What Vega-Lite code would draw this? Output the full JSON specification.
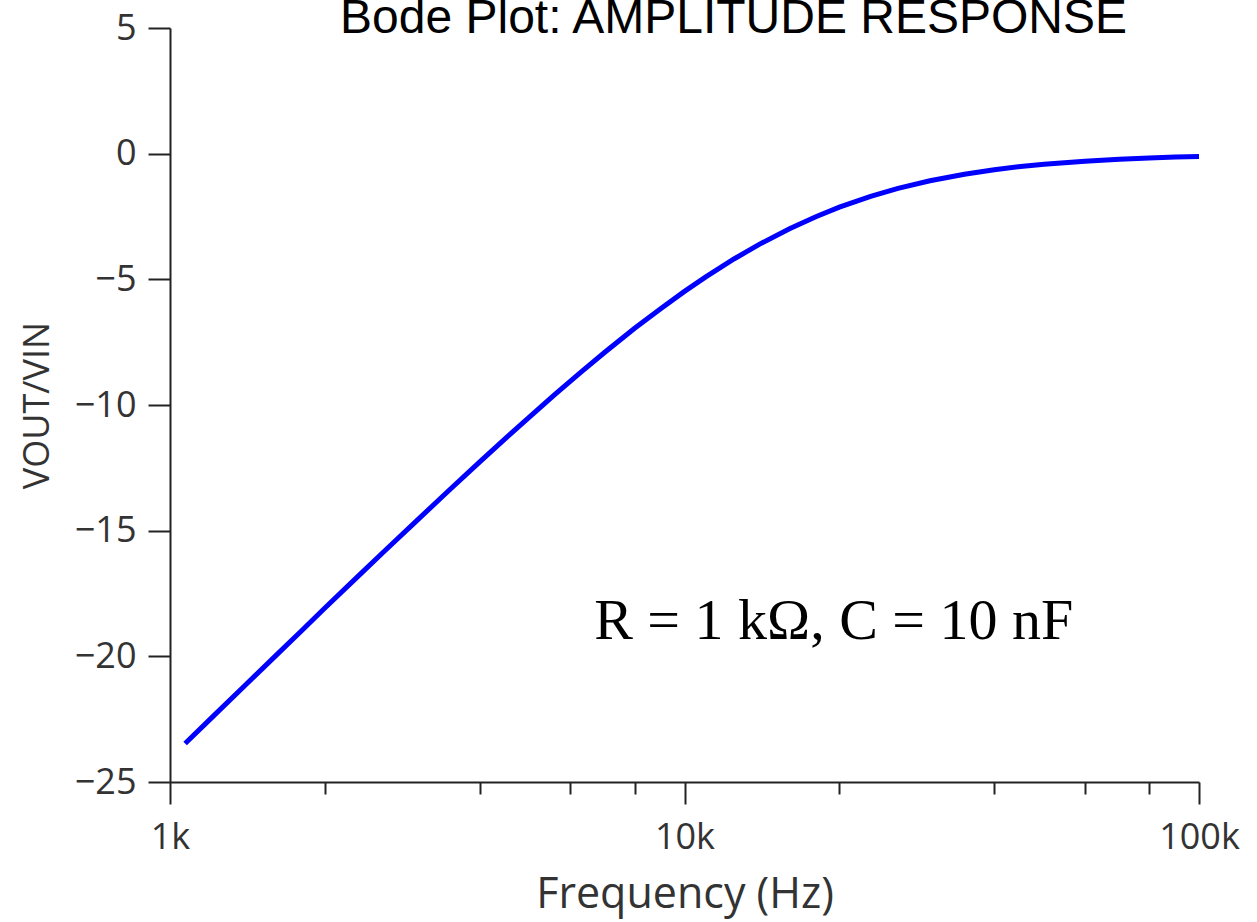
{
  "$schema": "https://vega.github.io/schema/vega-lite/v6.json",
  "width": 1029,
  "height": 754,
  "autosize": {"type": "none"},
  "padding": {"left": 170, "top": 28, "right": 58, "bottom": 140},
  "background": "white",
  "config": {
    "view": {"stroke": null},
    "axis": {
      "grid": false,
      "domainColor": "#222222",
      "domainWidth": 2,
      "tickColor": "#222222",
      "tickWidth": 2,
      "labelColor": "#333333",
      "labelFont": "Open Sans",
      "labelFontSize": 36,
      "titleFont": "Open Sans",
      "titleFontWeight": "normal",
      "titleColor": "#333333"
    }
  },
  "title": {
    "text": "Bode Plot: AMPLITUDE RESPONSE",
    "font": "Liberation Sans",
    "fontSize": 48,
    "fontWeight": "normal",
    "color": "black",
    "anchor": "middle",
    "frame": "group",
    "dx": 49,
    "baseline": "alphabetic",
    "offset": 0,
    "dy": 71
  },
  "layer": [
    {
      "data": {
        "values": [
          {"frequency": 1070, "gain": -23.47},
          {"frequency": 1200, "gain": -22.48},
          {"frequency": 1400, "gain": -21.15},
          {"frequency": 1600, "gain": -20.0},
          {"frequency": 1800, "gain": -18.99},
          {"frequency": 2000, "gain": -18.08},
          {"frequency": 2300, "gain": -16.89},
          {"frequency": 2600, "gain": -15.85},
          {"frequency": 3000, "gain": -14.65},
          {"frequency": 3500, "gain": -13.36},
          {"frequency": 4000, "gain": -12.26},
          {"frequency": 4500, "gain": -11.31},
          {"frequency": 5000, "gain": -10.47},
          {"frequency": 5600, "gain": -9.58},
          {"frequency": 6300, "gain": -8.68},
          {"frequency": 7000, "gain": -7.9},
          {"frequency": 8000, "gain": -6.95},
          {"frequency": 9000, "gain": -6.16},
          {"frequency": 10000, "gain": -5.48},
          {"frequency": 11000, "gain": -4.9},
          {"frequency": 12500, "gain": -4.18},
          {"frequency": 14000, "gain": -3.6},
          {"frequency": 16000, "gain": -2.99},
          {"frequency": 18000, "gain": -2.51},
          {"frequency": 20000, "gain": -2.13},
          {"frequency": 23000, "gain": -1.7},
          {"frequency": 26000, "gain": -1.38},
          {"frequency": 30000, "gain": -1.08},
          {"frequency": 35000, "gain": -0.82},
          {"frequency": 40000, "gain": -0.64},
          {"frequency": 45000, "gain": -0.51},
          {"frequency": 50000, "gain": -0.42},
          {"frequency": 60000, "gain": -0.3},
          {"frequency": 70000, "gain": -0.22},
          {"frequency": 80000, "gain": -0.17},
          {"frequency": 90000, "gain": -0.13},
          {"frequency": 100000, "gain": -0.11}
        ]
      },
      "mark": {"type": "line", "color": "#0000ff", "strokeWidth": 5},
      "encoding": {
        "x": {
          "field": "frequency",
          "type": "quantitative",
          "scale": {"type": "log", "domain": [1000, 100000], "nice": false},
          "axis": {
            "title": "Frequency (Hz)",
            "titleFontSize": 43,
            "titlePadding": 18,
            "values": [1000, 2000, 4000, 6000, 8000, 10000, 20000, 40000, 60000, 80000, 100000],
            "labelExpr": "datum.value == 1000 ? '1k' : datum.value == 10000 ? '10k' : datum.value == 100000 ? '100k' : ''",
            "tickSize": {"condition": {"test": "datum.value == 1000 || datum.value == 10000 || datum.value == 100000", "value": 22}, "value": 12},
            "labelPadding": 16,
            "labelFlush": false,
            "labelOverlap": false
          }
        },
        "y": {
          "field": "gain",
          "type": "quantitative",
          "scale": {"domain": [-25, 5], "nice": false, "zero": false},
          "axis": {
            "title": "VOUT/VIN",
            "titleFontSize": 36,
            "titlePadding": 18,
            "values": [-25, -20, -15, -10, -5, 0, 5],
            "tickSize": 22,
            "labelPadding": 12
          }
        }
      }
    },
    {
      "data": {"values": [{"frequency": 19500, "gain": -19.3, "label": "R = 1 kΩ, C = 10 nF"}]},
      "mark": {"type": "text", "font": "Liberation Serif", "fontSize": 58, "align": "center", "baseline": "alphabetic", "color": "black"},
      "encoding": {
        "x": {"field": "frequency", "type": "quantitative"},
        "y": {"field": "gain", "type": "quantitative"},
        "text": {"field": "label"}
      }
    }
  ]
}
